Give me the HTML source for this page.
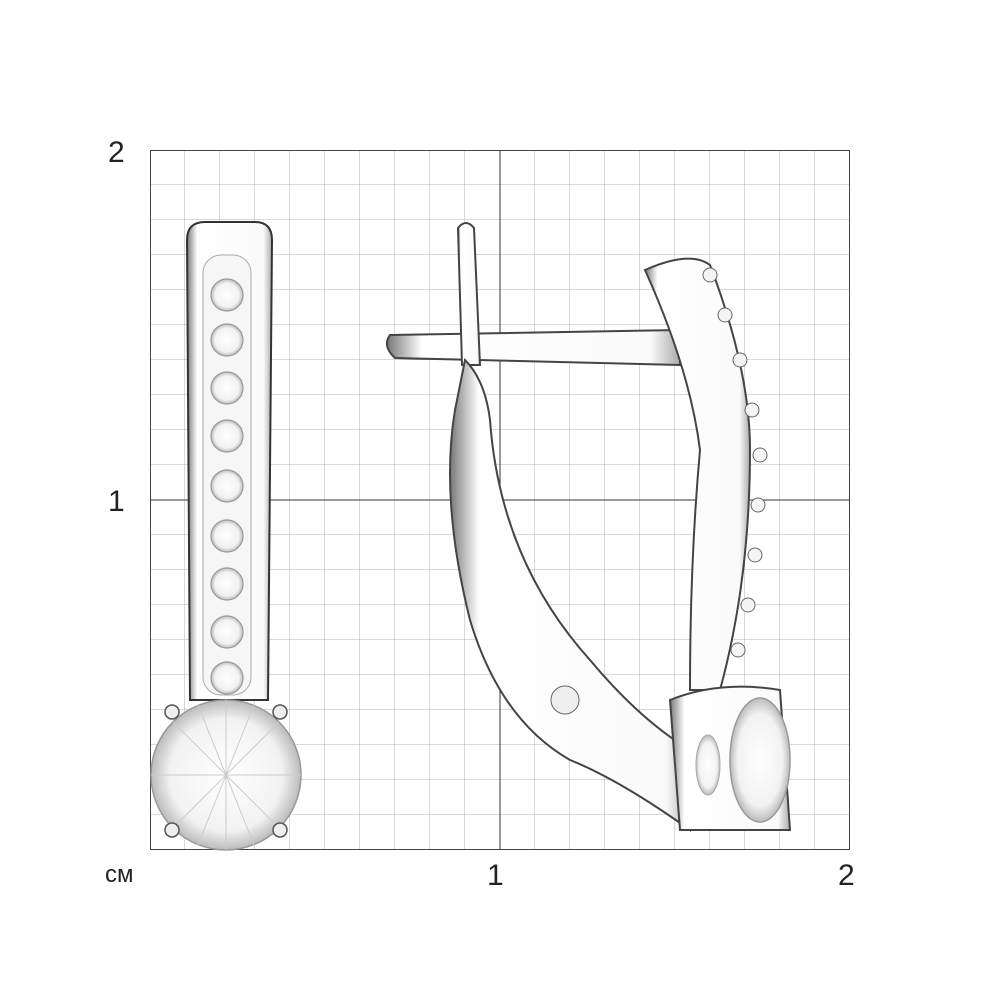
<!DOCTYPE html>
<html><head><style>
body{margin:0;background:#fff;}
svg{display:block}
text{font-family:"Liberation Sans",sans-serif;fill:#222}
</style></head><body>
<svg width="1000" height="1000" viewBox="0 0 1000 1000">
<defs>
<pattern id="g" x="150" y="150" width="35" height="35" patternUnits="userSpaceOnUse">
<path d="M35 0V35M0 35H35" stroke="#b3b3b3" stroke-width="1" fill="none"/>
</pattern>
<radialGradient id="st" cx="50%" cy="50%" r="50%">
<stop offset="0" stop-color="#fff"/><stop offset="0.75" stop-color="#f2f2f2"/><stop offset="1" stop-color="#bbb"/>
</radialGradient>
<linearGradient id="mt" x1="0" x2="1">
<stop offset="0" stop-color="#777"/><stop offset="0.12" stop-color="#fff"/><stop offset="0.9" stop-color="#fafafa"/><stop offset="1" stop-color="#aaa"/>
</linearGradient>
</defs>
<rect x="150" y="150" width="700" height="700" fill="url(#g)"/>
<rect x="150.5" y="150.5" width="699" height="699" fill="none" stroke="#444" stroke-width="1"/>
<path d="M500 150V850M150 500H850" stroke="#333" stroke-width="1"/>
<text x="108" y="162" font-size="30">2</text>
<text x="108" y="511" font-size="30">1</text>
<text x="105" y="882" font-size="24">см</text>
<text x="487" y="885" font-size="30">1</text>
<text x="838" y="885" font-size="30">2</text>
<!-- left earring -->
<path d="M187 240Q187 222 205 222H255Q272 222 272 240L268 700H190Z" fill="url(#mt)" stroke="#333" stroke-width="2"/>
<rect x="203" y="255" width="48" height="440" rx="18" fill="#f6f6f6" stroke="#aaa"/>
<g fill="url(#st)" stroke="#999" stroke-width="1.2">
<circle cx="227" cy="295" r="16"/><circle cx="227" cy="340" r="16"/><circle cx="227" cy="388" r="16"/>
<circle cx="227" cy="436" r="16"/><circle cx="227" cy="486" r="16"/><circle cx="227" cy="536" r="16"/>
<circle cx="227" cy="584" r="16"/><circle cx="227" cy="632" r="16"/><circle cx="227" cy="678" r="16"/>
</g>
<circle cx="226" cy="775" r="75" fill="url(#st)" stroke="#999" stroke-width="1.5"/>
<g stroke="#ccc" stroke-width="1"><path d="M151 775H301M226 700V850M173 722L279 828M173 828L279 722M198 705L254 845M198 845L254 705"/></g>
<g fill="#eee" stroke="#555" stroke-width="1.5"><circle cx="172" cy="712" r="7"/><circle cx="280" cy="712" r="7"/><circle cx="172" cy="830" r="7"/><circle cx="280" cy="830" r="7"/></g>
<!-- right earring -->
<path d="M390 335L680 330L680 365L395 358Q382 346 390 335Z" fill="url(#mt)" stroke="#444" stroke-width="2"/>
<path d="M458 228Q466 218 474 228L480 365L462 365Z" fill="url(#mt)" stroke="#444" stroke-width="2"/>
<path d="M465 360Q485 380 490 420Q500 560 590 660Q640 720 690 750L690 830Q620 780 570 760Q500 720 470 620Q440 500 455 410Z" fill="url(#mt)" stroke="#444" stroke-width="2"/>
<circle cx="565" cy="700" r="14" fill="#eee" stroke="#666"/>
<path d="M645 270Q690 250 710 265Q750 370 750 450Q750 580 720 690L690 690Q690 560 700 450Q690 370 645 270Z" fill="url(#mt)" stroke="#444" stroke-width="2"/>
<g fill="#f4f4f4" stroke="#666"><circle cx="710" cy="275" r="7"/><circle cx="725" cy="315" r="7"/><circle cx="740" cy="360" r="7"/><circle cx="752" cy="410" r="7"/><circle cx="760" cy="455" r="7"/><circle cx="758" cy="505" r="7"/><circle cx="755" cy="555" r="7"/><circle cx="748" cy="605" r="7"/><circle cx="738" cy="650" r="7"/></g>
<path d="M670 700Q720 680 780 690L790 830L680 830Z" fill="url(#mt)" stroke="#444" stroke-width="2"/>
<ellipse cx="760" cy="760" rx="30" ry="62" fill="url(#st)" stroke="#999" stroke-width="1.5"/>
<ellipse cx="708" cy="765" rx="12" ry="30" fill="url(#st)" stroke="#aaa"/>
</svg>
</body></html>
